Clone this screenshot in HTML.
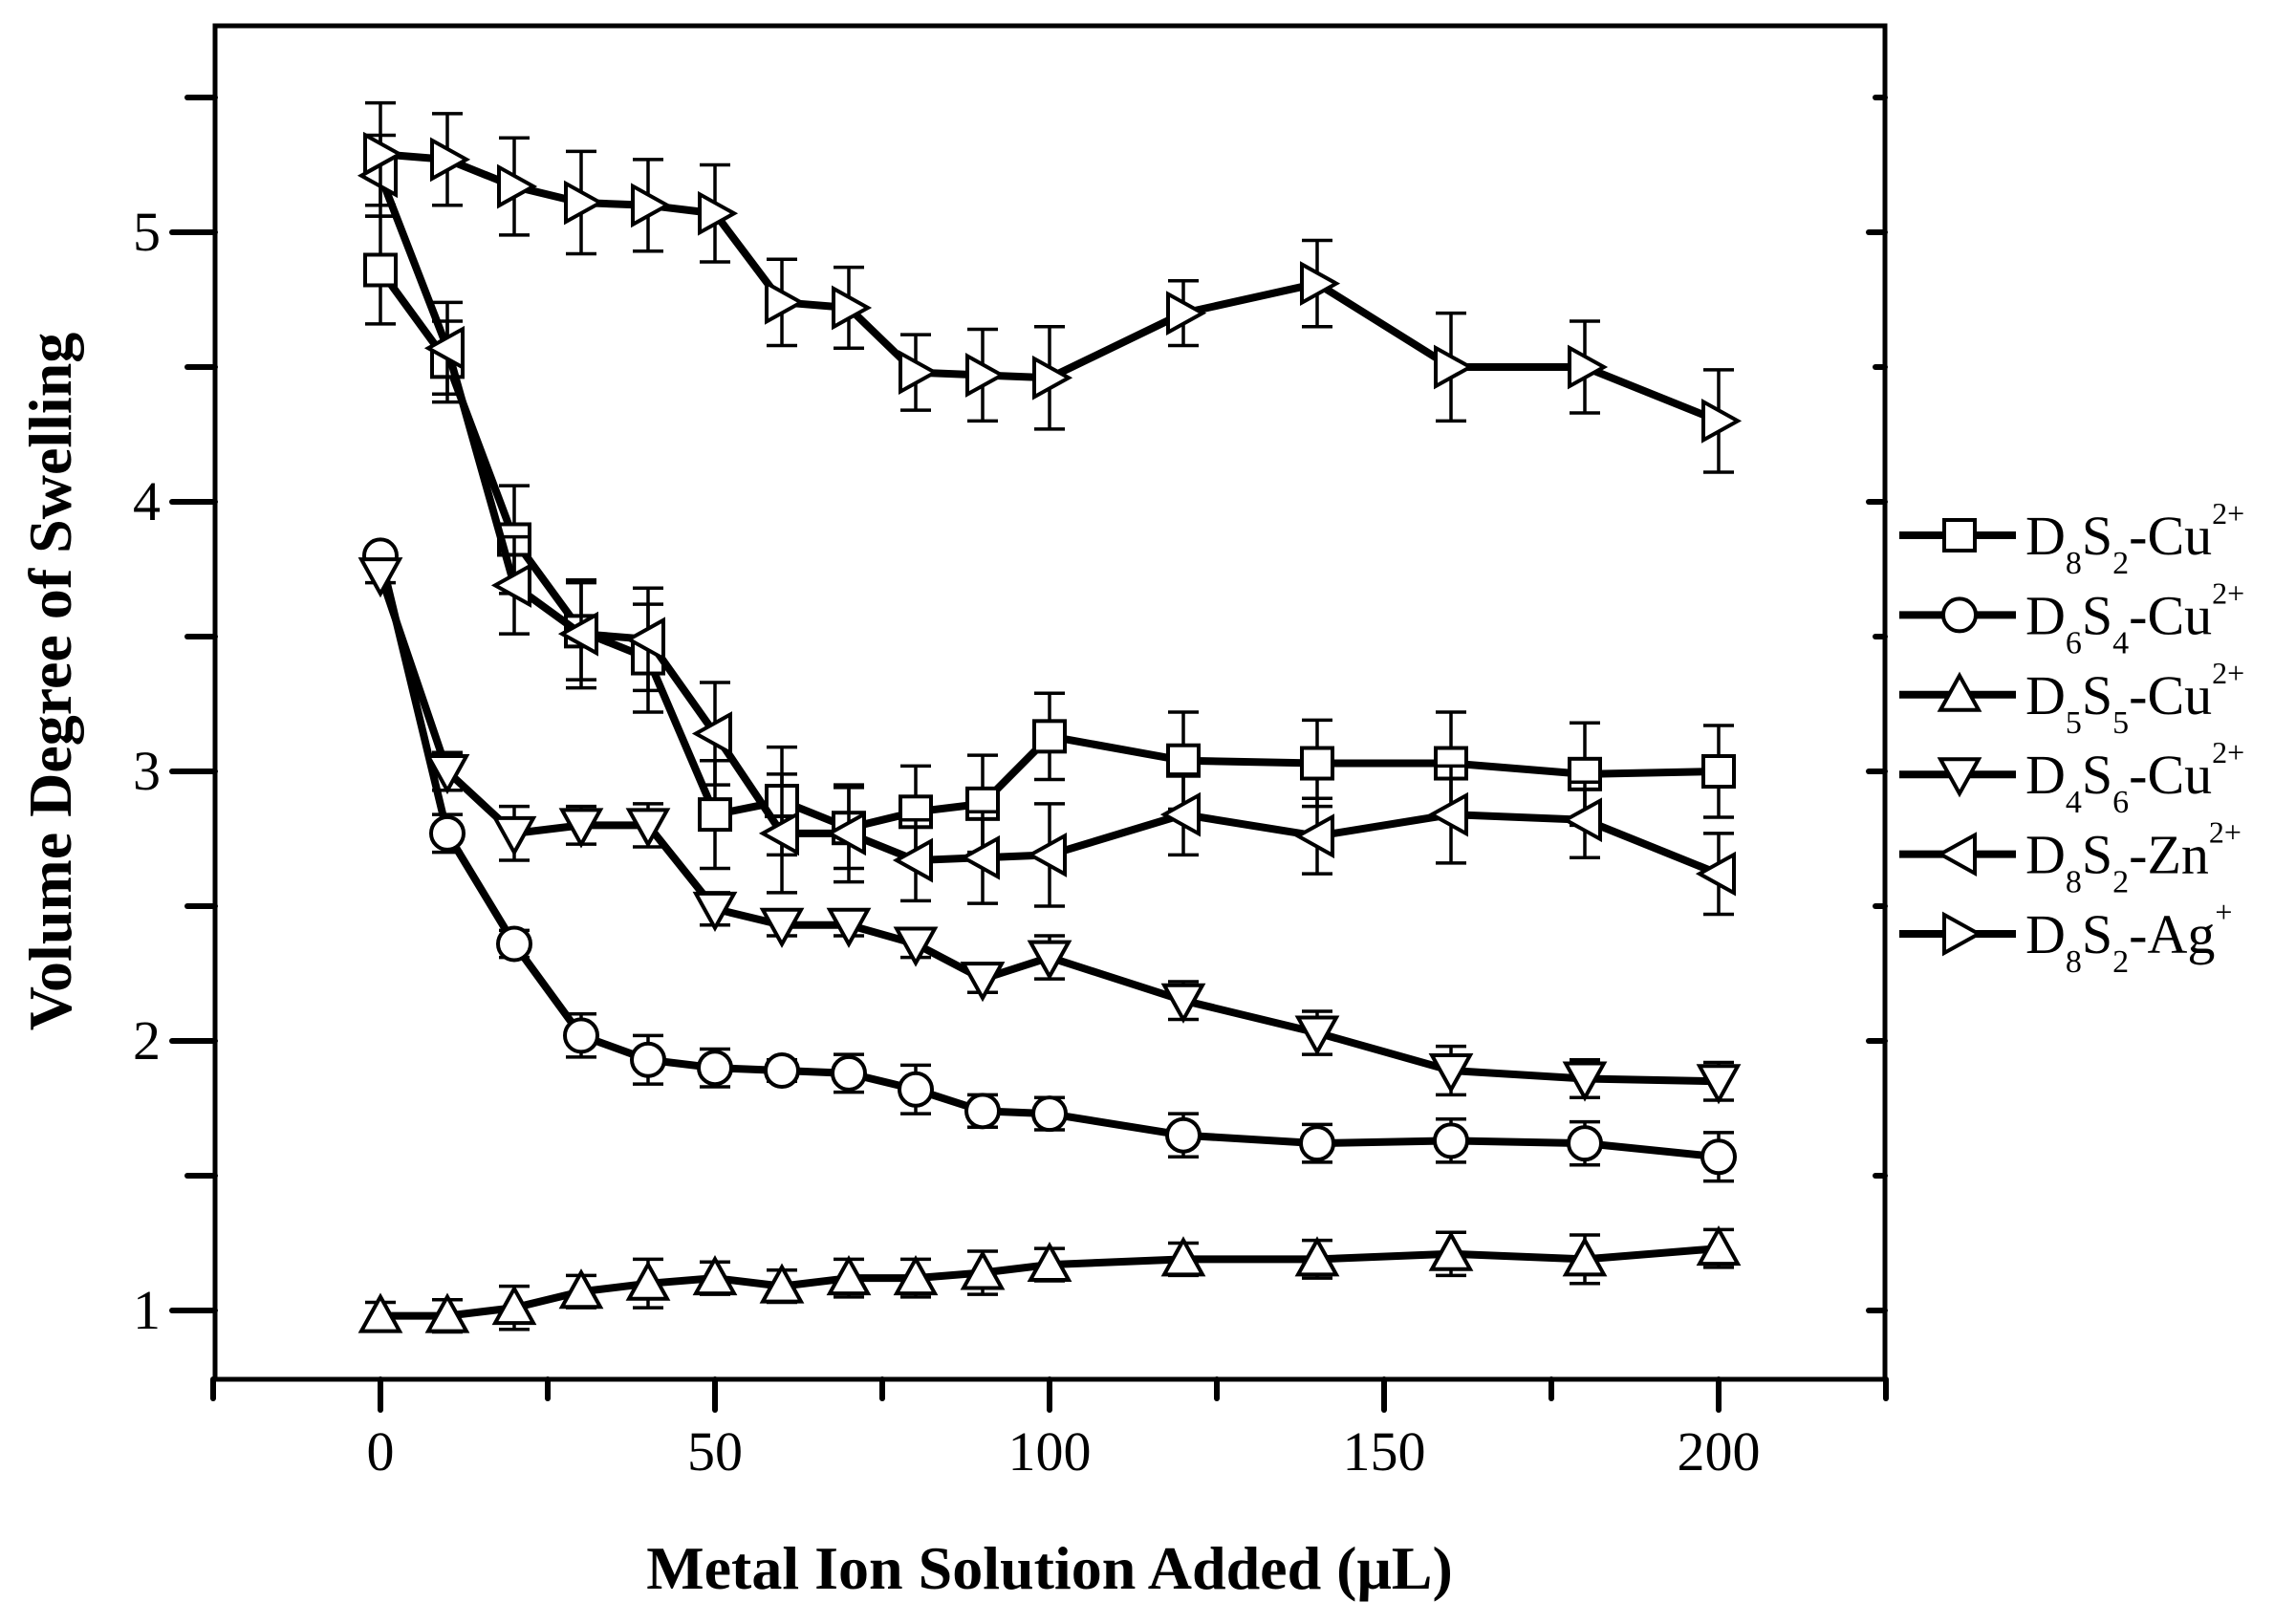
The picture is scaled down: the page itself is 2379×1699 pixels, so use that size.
<!DOCTYPE html>
<html><head><meta charset="utf-8">
<style>
html,body{margin:0;padding:0;background:#fff;}
svg{display:block;}
text{font-family:"Liberation Serif","DejaVu Serif",serif;fill:#000;}
</style></head>
<body>
<svg id="s" width="2379" height="1699" viewBox="0 0 2379 1699" xmlns="http://www.w3.org/2000/svg">
<rect width="2379" height="1699" fill="#fff"/>
<rect x="225" y="27" width="1747" height="1416" fill="none" stroke="#000" stroke-width="5"/>
<g id="ax" stroke="#000" stroke-width="6" stroke-linecap="round"></g>
<g id="lb" font-size="58"></g>
<text x="1098" y="1662" font-size="64" font-weight="bold" text-anchor="middle">Metal Ion Solution Added (μL)</text>
<text transform="translate(74,713) rotate(-90)" font-size="64" font-weight="bold" text-anchor="middle">Volume Degree of Swelling</text>
<g id="data"></g>
<g id="leg"></g>
</svg>
<script>
const NS="http://www.w3.org/2000/svg";
function el(p,t,a,txt){const e=document.createElementNS(NS,t);for(const k in a)e.setAttribute(k,a[k]);if(txt!==undefined)e.textContent=txt;p.appendChild(e);return e;}
const X=v=>398+7.0*v, Y=v=>1371-282*(v-1);
const ax=document.getElementById('ax'), lb=document.getElementById('lb');
for(let v=-25;v<=225;v+=25){const x=X(v);const major=v%50==0;el(ax,'line',{x1:x,y1:1443,x2:x,y2:major?1475:1463});if(major&&v>=0&&v<=200)el(lb,'text',{x:x,y:1538,'text-anchor':'middle'},v);}
for(let v=1;v<=5.5;v+=0.5){const y=Y(v);const major=v%1==0;el(ax,'line',{x1:225,y1:y,x2:major?180:196,y2:y});el(ax,'line',{x1:1972,y1:y,x2:major?1955:1962,y2:y});if(major)el(lb,'text',{x:168,y:y+19,'text-anchor':'end'},v);}
const xs=[0,10,20,30,40,50,60,70,80,90,100,120,140,160,180,200];
const S=[
 ['sq',[[4.86,.2],[4.52,.15],[3.86,.2],[3.52,.18],[3.42,.2],[2.84,.2],[2.89,.2],[2.79,.15],[2.85,.17],[2.88,.18],[3.13,.16],[3.04,.18],[3.03,.16],[3.03,.19],[2.99,.19],[3.0,.17]]],
 ['ci',[[3.8,.03],[2.77,.07],[2.36,.05],[2.02,.08],[1.93,.09],[1.9,.07],[1.89,.04],[1.88,.07],[1.82,.09],[1.74,.06],[1.73,.06],[1.65,.08],[1.62,.07],[1.63,.08],[1.62,.08],[1.57,.09]]],
 ['up',[[.98,.05],[.98,.06],[1.01,.08],[1.07,.06],[1.1,.09],[1.12,.06],[1.09,.06],[1.12,.07],[1.12,.07],[1.14,.08],[1.17,.06],[1.19,.06],[1.19,.07],[1.21,.08],[1.19,.09],[1.23,.07]]],
 ['dn',[[3.73,.03],[3.0,.07],[2.77,.1],[2.8,.07],[2.8,.08],[2.49,.06],[2.43,.04],[2.43,.04],[2.36,.05],[2.23,.05],[2.31,.08],[2.15,.07],[2.03,.08],[1.89,.09],[1.86,.07],[1.85,.07]]],
 ['lt',[[5.21,.15],[4.57,.17],[3.69,.18],[3.51,.2],[3.49,.19],[3.14,.19],[2.77,.22],[2.77,.18],[2.67,.15],[2.68,.17],[2.69,.19],[2.84,.15],[2.76,.14],[2.84,.18],[2.82,.14],[2.62,.15]]],
 ['rt',[[5.29,.19],[5.27,.17],[5.17,.18],[5.11,.19],[5.1,.17],[5.07,.18],[4.74,.16],[4.72,.15],[4.48,.14],[4.47,.17],[4.46,.19],[4.7,.12],[4.81,.16],[4.5,.2],[4.5,.17],[4.3,.19]]]
];
function marker(g,t,x,y){const r=18;const a={fill:'#fff',stroke:'#000','stroke-width':4};
 if(t=='sq')el(g,'rect',Object.assign({x:x-r+2,y:y-r+2,width:2*r-4,height:2*r-4},a));
 else if(t=='ci')el(g,'circle',Object.assign({cx:x,cy:y,r:r-1},a));
 else{let p;if(t=='up')p=[[x,y-r-2],[x+r+2,y+r-2],[x-r-2,y+r-2]];if(t=='dn')p=[[x,y+r+2],[x+r+2,y-r+2],[x-r-2,y-r+2]];if(t=='lt')p=[[x-r-2,y],[x+r-2,y-r-2],[x+r-2,y+r+2]];if(t=='rt')p=[[x+r+2,y],[x-r+2,y-r-2],[x-r+2,y+r+2]];el(g,'polygon',Object.assign({points:p.map(q=>q.join(',')).join(' ')},a));}}
const dg=document.getElementById('data');
S.forEach(([t,d])=>{const g=el(dg,'g',{});
 d.forEach(([v,e],i)=>{const x=X(xs[i]);el(g,'path',{d:`M${x},${Y(v+e)}V${Y(v-e)}M${x-16},${Y(v+e)}h32M${x-16},${Y(v-e)}h32`,stroke:'#000','stroke-width':3.5,fill:'none'});});
 el(g,'polyline',{points:d.map(([v],i)=>X(xs[i])+','+Y(v)).join(' '),fill:'none',stroke:'#000','stroke-width':8,'stroke-linejoin':'round'});
 d.forEach(([v],i)=>marker(g,t,X(xs[i]),Y(v)));});
const lg=document.getElementById('leg');
const L=[['sq','8','2','Cu','2+'],['ci','6','4','Cu','2+'],['up','5','5','Cu','2+'],['dn','4','6','Cu','2+'],['lt','8','2','Zn','2+'],['rt','8','2','Ag','+']];
L.forEach(([t,a,b,m,c],k)=>{const y=560+83.4*k;el(lg,'line',{x1:1987,y1:y,x2:2109,y2:y,stroke:'#000','stroke-width':8});marker(lg,t,2050,y);
 const tx=el(lg,'text',{x:2119,y:y+20,'font-size':58});
 el(tx,'tspan',{},'D');el(tx,'tspan',{'font-size':34,dy:20},a);el(tx,'tspan',{'font-size':58,dy:-20},'S');el(tx,'tspan',{'font-size':34,dy:20},b);el(tx,'tspan',{'font-size':58,dy:-20},'-'+m);el(tx,'tspan',{'font-size':32,dy:-32},c);});
</script>
</body></html>
